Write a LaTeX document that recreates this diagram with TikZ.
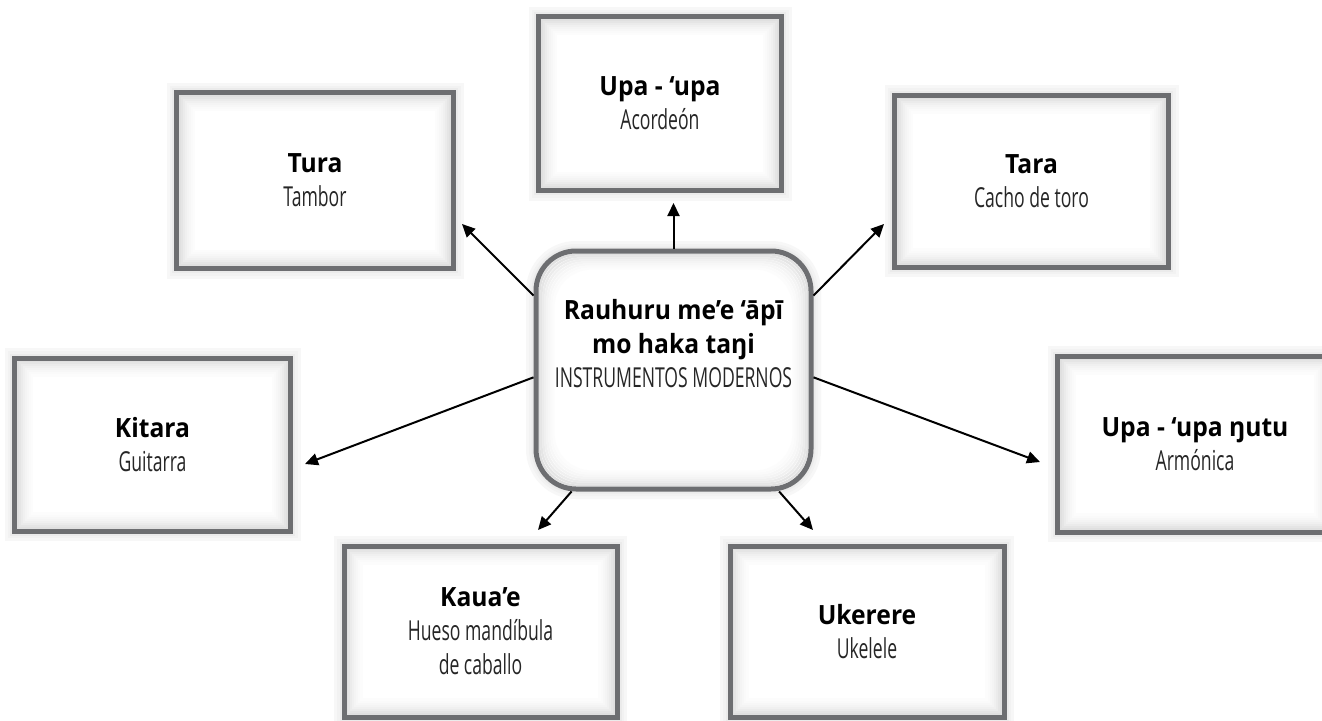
\documentclass[tikz,border=0pt]{standalone}
\usepackage{fontspec}
\setmainfont{Open Sans}
\newfontfamily\titlefont[FakeStretch=0.93]{Open Sans}
\newfontfamily\subfont[FakeStretch=0.64]{Open Sans}
\usetikzlibrary{arrows.meta,calc}
\definecolor{boxgray}{HTML}{6D6E71}
\newcommand\ttl[1]{{\titlefont\bfseries\fontsize{26.5}{34}\selectfont #1}}
\newcommand\sbt[1]{{\subfont\fontsize{27.5}{34}\selectfont\color{black!85}#1}}
\tikzset{
  x=1pt, y=-1pt,
  box/.style={draw=boxgray, line width=5pt, fill=white, inner sep=0pt,
    align=center, font=\fontsize{26}{34}\selectfont,
    preaction={draw=black!3, line width=20pt},
    preaction={draw=black!5, line width=14pt},
    preaction={draw=black!8, line width=9pt},
    path picture={
      \foreach \d/\c in {3.5/12,5.5/10,7.5/8,9.5/6,11.5/4.5,13.5/3,15.5/2,17.5/1}{
        \draw[line width=2.2pt, black!\c]
          ([xshift=\d pt,yshift=-\d pt]path picture bounding box.north west) rectangle
          ([xshift=-\d pt,yshift=\d pt]path picture bounding box.south east);
      }}},
  cbox/.style={draw=boxgray, line width=5pt, fill=white, inner sep=0pt, rounded corners=40pt,
    preaction={draw=black!3, line width=20pt},
    preaction={draw=black!5, line width=14pt},
    preaction={draw=black!8, line width=9pt},
    path picture={
      \foreach \d/\c in {3.5/12,5.5/10,7.5/8,9.5/6,11.5/4.5,13.5/3,15.5/2,17.5/1}{
        \draw[line width=2.2pt, black!\c, rounded corners=38pt]
          ([xshift=\d pt,yshift=-\d pt]path picture bounding box.north west) rectangle
          ([xshift=-\d pt,yshift=\d pt]path picture bounding box.south east);
      }}},
  txt/.style={align=center, inner sep=0pt, font=\fontsize{26}{34}\selectfont},
  arr/.style={line width=2pt, -{Triangle[length=13pt,width=12pt]}}
}
\begin{document}
\begin{tikzpicture}
\clip (0,0) rectangle (1322,720);
\fill[white] (0,0) rectangle (1322,720);

\node[box, minimum width=243pt, minimum height=174pt] (upa) at (660,103.5)
  {\ttl{Upa - ‘upa}\\\sbt{Acordeón}};
\node[box, minimum width=277pt, minimum height=176pt] (tura) at (315,180.5)
  {\ttl{Tura}\\\sbt{Tambor}};
\node[box, minimum width=274pt, minimum height=172pt] (tara) at (1031.5,181)
  {\ttl{Tara}\\\sbt{Cacho de toro}};
\node[box, minimum width=276pt, minimum height=173pt] (kitara) at (152.5,444.5)
  {\ttl{Kitara}\\\sbt{Guitarra}};
\node[box, minimum width=275pt, minimum height=176pt] (ngutu) at (1195,444)
  {\ttl{Upa - ‘upa ŋutu}\\\sbt{Armónica}};
\node[box, minimum width=273pt, minimum height=171pt] (kauae) at (480.5,631.5)
  {\ttl{Kaua’e}\\\sbt{Hueso mandíbula}\\\sbt{de caballo}};
\node[box, minimum width=274pt, minimum height=171pt] (ukerere) at (867,631.5)
  {\ttl{Ukerere}\\\sbt{Ukelele}};

\node[cbox, minimum width=275pt, minimum height=238pt] (c) at (673.5,370) {};
\node[txt] (ctext) at (673.5,344)
  {\ttl{Rauhuru me’e ‘āpī}\\\ttl{mo haka taŋi}\\\sbt{INSTRUMENTOS MODERNOS}};

\coordinate (tUpa) at (673.5,203);
\coordinate (tTura) at (462,224);
\coordinate (tTara) at (884,224);
\coordinate (tKitara) at (305,464);
\coordinate (tNgutu) at (1040,462);
\coordinate (tKauae) at (538,530);
\coordinate (tUkerere) at (813,530);

\draw[arr] (c.north) -- (tUpa);
\draw[arr] (c.152.2) -- (tTura);
\draw[arr] (c.28.9) -- (tTara);
\draw[arr] (c.183.3) -- (tKitara);
\draw[arr] (c.357.1) -- (tNgutu);
\draw[arr] (c.230.3) -- (tKauae);
\draw[arr] (c.311) -- (tUkerere);
\end{tikzpicture}
\end{document}
